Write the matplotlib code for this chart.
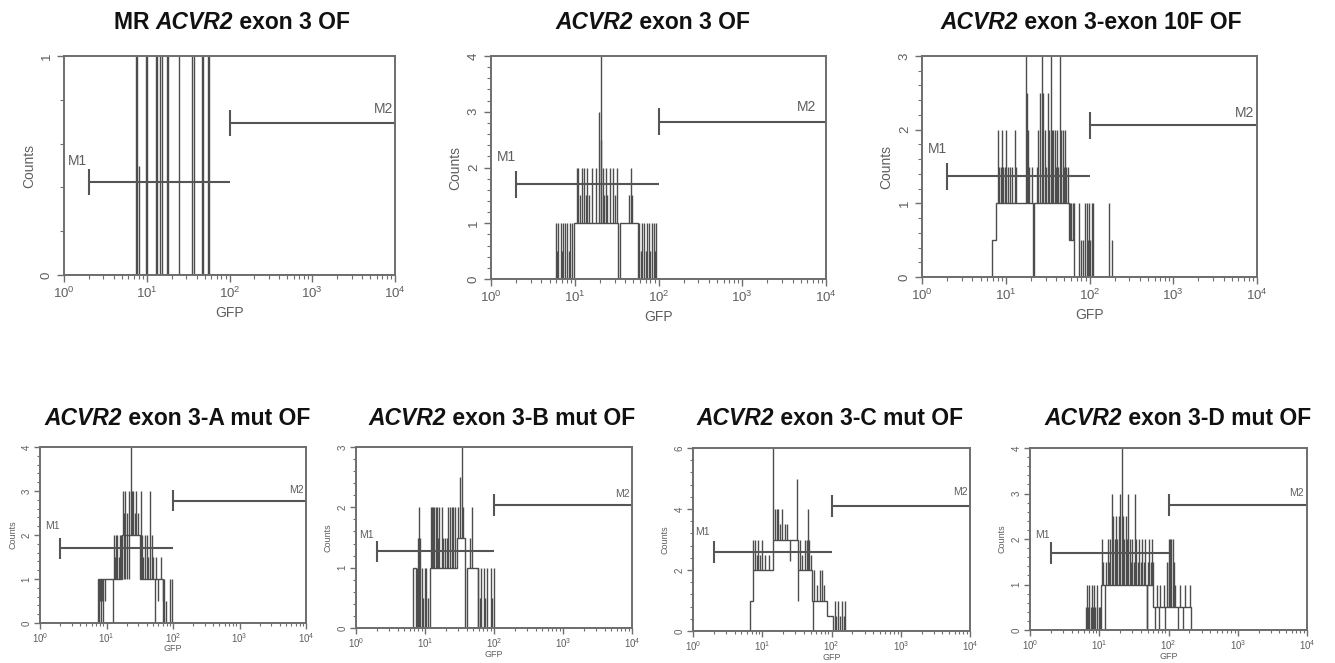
import numpy as np
import matplotlib
matplotlib.use("Agg")
import matplotlib.pyplot as plt
from matplotlib.ticker import LogLocator, MultipleLocator, NullFormatter

plt.rcParams['font.family'] = ['Liberation Sans', 'DejaVu Sans']
plt.rcParams['mathtext.fontset'] = 'custom'
plt.rcParams['mathtext.rm'] = 'Liberation Sans'
plt.rcParams['mathtext.it'] = 'Liberation Sans:italic'
plt.rcParams['mathtext.bf'] = 'Liberation Sans:bold'

# ---------------- data ----------------
titles = [
    [("MR ", False), ("ACVR2", True), (" exon 3 OF", False)],
    [("ACVR2", True), (" exon 3 OF", False)],
    [("ACVR2", True), (" exon 3-exon 10F OF", False)],
    [("ACVR2", True), (" exon 3-A mut OF", False)],
    [("ACVR2", True), (" exon 3-B mut OF", False)],
    [("ACVR2", True), (" exon 3-C mut OF", False)],
    [("ACVR2", True), (" exon 3-D mut OF", False)],
]
x_label = "GFP"
y_label = "Counts"
gate_names = ["M1", "M2"]
gate_m1_range = [2.0, 100.0]
gate_m2_range = [100.0, 10000.0]

y_max = [1, 4, 3, 4, 3, 6, 4]
y_major = [1, 1, 1, 1, 1, 2, 1]

# gate bar levels (counts)
m1_level = [0.426, 1.70, 1.365, 1.70, 1.27, 2.60, 1.70]
m2_level = [0.693, 2.82, 2.06, 2.78, 2.04, 4.10, 2.75]

# histogram floor (step) : edges (GFP) and counts
p1_edges = [7.0, 60.0]
p1_counts = [0]
p1_spikes = [(7.4, 1), (7.7, 1), (8.0, 0.5), (9.9, 1), (10.2, 1), (12.9, 1), (13.4, 1),
             (14.6, 1), (15.5, 1), (17.8, 1), (18.3, 1), (24.4, 1), (35.6, 1), (37.0, 1),
             (46.2, 1), (48.3, 1), (55.0, 1), (57.1, 1)]

p2_edges = [5.7, 9.8, 32.5, 34.7, 57.4, 95.0]
p2_counts = [0, 1, 0, 1, 0]
p2_spikes = [(5.97, 1), (6.2, 0.5), (6.37, 1), (6.79, 1), (7.0, 0.5), (7.17, 1), (7.65, 1),
             (8.15, 1), (8.5, 0.5), (8.77, 1), (9.36, 1), (10.5, 2), (11.0, 2), (11.5, 1.5),
             (12.1, 2), (12.9, 2), (13.5, 1.5), (14.1, 2), (15.0, 1.5), (15.9, 2), (17.8, 2),
             (19.7, 3), (20.4, 4), (20.8, 2.5), (21.5, 2), (22.5, 1.5), (23.6, 2), (24.5, 1.5),
             (26.4, 2), (28.9, 2), (30.0, 1.5), (31.6, 2), (45.0, 1.5), (46.5, 2), (48.0, 1.5),
             (59.0, 1), (61.0, 0.5), (62.9, 1), (67.1, 1), (70.0, 0.5), (72.2, 1), (77.8, 1),
             (80.0, 0.5), (82.9, 1), (88.3, 1), (91.0, 0.5), (93.4, 1)]

p3_edges = [6.9, 7.6, 20.9, 21.6, 57.5, 66.0]
p3_counts = [0.5, 1, 0, 1, 0.5]
p3_spikes = [(8.1, 2), (8.4, 1.5), (8.7, 1.5), (9.06, 2), (9.4, 1.5), (9.75, 1.5), (10.2, 2),
             (10.6, 1.5), (11.2, 1.5), (12.0, 1.5), (12.8, 2), (13.3, 1.5), (17.4, 3), (17.8, 2.5),
             (18.3, 2), (19.1, 1.5), (20.5, 1.5), (23.3, 1.5), (24.5, 2), (25.6, 2.5), (27.3, 3),
             (28.0, 2.5), (29.4, 2), (30.5, 1.5), (32.2, 2.5), (33.0, 2), (34.6, 3), (35.5, 2),
             (36.9, 2), (38.7, 2), (40.0, 1.5), (41.2, 2), (42.5, 1.5), (44.4, 3), (45.5, 2),
             (47.8, 2), (49.0, 1.5), (50.9, 2), (53.0, 1.5), (55.0, 1.5), (58.4, 1), (60.5, 1),
             (62.9, 1), (65.3, 1), (75.6, 1), (80.0, 0.5), (84.0, 0.5), (88.3, 1), (92.5, 1),
             (96.0, 0.5), (98.6, 1), (102.0, 0.5), (106.0, 1), (111.0, 1), (173.0, 1), (184.0, 0.5)]

pA_edges = [7.5, 12.7, 17.4, 31.5, 71.5]
pA_counts = [1, 1, 2, 1]
pA_spikes = [(7.6, 0), (7.9, 0.5), (8.2, 0), (8.6, 0.5), (9.0, 0), (9.4, 0.5), (12.6, 0),
             (13.0, 2), (13.4, 1.5), (14.0, 2), (14.5, 2), (15.2, 1.5), (15.9, 2), (16.6, 2),
             (17.9, 3), (18.2, 1), (18.5, 2.5), (19.0, 1), (19.3, 3), (20.0, 1), (20.2, 2.5),
             (21.5, 3), (22.0, 1), (23.1, 4), (24.2, 3), (25.3, 3), (26.5, 2.5), (28.0, 3),
             (30.1, 2.5), (32.7, 3), (33.8, 2), (35.5, 1.5), (37.9, 2), (40.2, 2), (42.0, 1.5),
             (45.1, 3), (47.8, 2), (50.0, 1.5), (53.0, 0), (56.0, 1.5), (60.0, 0.5), (65.0, 1.5),
             (70.0, 0.5), (74.0, 1), (78.0, 0.5), (90.0, 1), (95.0, 1)]

pB_edges = [6.8, 7.3, 11.8, 28.8, 38.5, 40.0, 58.0]
pB_counts = [1, 0, 1, 1.5, 0, 1]
pB_spikes = [(7.7, 1), (8.0, 1.5), (8.3, 2), (8.6, 1.5), (9.0, 1), (9.5, 0.5), (10.0, 1),
             (10.4, 1), (11.0, 0.5), (12.3, 2), (12.8, 2), (13.2, 2), (13.7, 2), (14.2, 2),
             (14.8, 2), (15.4, 1.5), (16.2, 2), (17.5, 2), (18.5, 1.5), (19.5, 1.5), (20.5, 1.5),
             (21.8, 2), (23.0, 2), (24.3, 2), (25.6, 2), (27.2, 2), (30.5, 2), (32.5, 2.5),
             (34.0, 3), (35.5, 2), (45.0, 1.5), (47.5, 2), (59.6, 1), (62.0, 0.5), (65.1, 1),
             (70.5, 1), (74.0, 0.5), (78.8, 1), (90.0, 1), (94.0, 0.5), (98.4, 1)]

pC_edges = [6.7, 7.4, 14.4, 25.2, 33.2, 52.0, 85.0, 106.0]
pC_counts = [1, 2, 3, 3, 2, 1, 0.5]
pC_spikes = [(7.4, 3), (7.9, 3), (8.3, 2.5), (8.8, 3), (9.3, 2.5), (9.8, 3), (11.0, 2.5),
             (12.5, 2.5), (14.4, 6), (15.3, 4), (16.2, 4), (17.1, 4), (18.0, 3.5), (19.1, 4),
             (21.0, 3.5), (23.0, 3.5), (25.5, 2.3), (27.0, 3), (29.0, 3), (31.4, 5), (33.2, 1),
             (35.0, 3), (38.0, 2.5), (42.0, 3), (44.0, 3), (46.3, 4), (48.0, 3), (50.0, 2.5),
             (54.0, 0), (56.0, 2), (62.0, 1.5), (68.0, 2), (72.0, 2), (78.0, 1.5), (112.0, 1),
             (118.0, 0.5), (125.0, 1), (132.0, 0.5), (140.0, 1), (150.0, 0.5), (157.0, 1)]

pD_edges = [6.2, 10.6, 48.4, 49.5, 60.4, 210.0]
pD_counts = [0, 1, 0, 1, 0.5]
pD_spikes = [(6.4, 0.5), (6.6, 1), (6.9, 0.5), (7.2, 1), (7.5, 0.5), (7.8, 1), (8.1, 0.5),
             (8.4, 1), (8.8, 0.5), (9.2, 1), (9.8, 0.5), (10.3, 0.5), (11.0, 2), (11.5, 1.5),
             (12.1, 0), (12.6, 1.5), (13.2, 2), (13.8, 1.5), (14.4, 2), (15.1, 3), (16.0, 2.5),
             (16.7, 2), (17.5, 2.5), (18.3, 2), (19.2, 2.5), (20.2, 3), (21.1, 4), (22.0, 2.5),
             (23.0, 2), (24.2, 2.5), (25.3, 2), (26.3, 3), (27.5, 2), (28.8, 1.5), (30.0, 2),
             (31.4, 1.5), (32.8, 3), (34.5, 2), (36.0, 1.5), (38.0, 2), (40.0, 1.5), (42.0, 2),
             (44.0, 1.5), (46.0, 2), (51.0, 1.5), (53.0, 2), (55.0, 1.5), (57.2, 2), (59.0, 1.5),
             (63.0, 0), (67.8, 1), (72.0, 0), (76.0, 1), (80.0, 0.5), (84.7, 1), (90.0, 0),
             (96.0, 1.5), (100.0, 2), (103.0, 1.5), (106.0, 2), (110.0, 2), (115.0, 2), (120.0, 1.5),
             (125.0, 1), (135.0, 0), (147.0, 1), (160.0, 0), (175.0, 1), (190.0, 0.5), (205.0, 1)]

panels_hist = [
    (p1_edges, p1_counts, p1_spikes),
    (p2_edges, p2_counts, p2_spikes),
    (p3_edges, p3_counts, p3_spikes),
    (pA_edges, pA_counts, pA_spikes),
    (pB_edges, pB_counts, pB_spikes),
    (pC_edges, pC_counts, pC_spikes),
    (pD_edges, pD_counts, pD_spikes),
]

# ---------------- layout (pixels) ----------------
W, H = 1335, 663
fig = plt.figure(figsize=(W / 100, H / 100), dpi=100)
fig.patch.set_facecolor('white')

# (left, right, top, bottom) in pixels
axes_px = [
    (64, 395, 56, 275),
    (491, 826, 56, 279),
    (922, 1257, 56, 277),
    (40, 306, 447, 623),
    (356, 632, 447, 628),
    (693, 970, 448, 631),
    (1030, 1307, 448, 630),
]
title_px = [(232, 29), (653, 29), (1091, 29), (177, 425), (502, 425), (830, 425), (1178, 425)]
m1_label_pos = [(0.16, 0.52), (0.19, 0.545), (0.19, 0.58), (0.19, 0.55), (0.155, 0.515), (0.135, 0.543), (0.18, 0.52)]
m2_label_pos = [(3.86, 0.76), (3.77, 0.77), (3.85, 0.743), (3.85, 0.757), (3.855, 0.743), (3.86, 0.757), (3.85, 0.75)]

LINE = '#4d4d4d'
AXC = '#6e6e6e'
TXT = '#5e5e5e'


def floor_at(edges, counts, x):
    e = np.asarray(edges)
    c = np.asarray(counts, dtype=float)
    idx = np.searchsorted(e, x, side='right') - 1
    out = np.zeros(len(x))
    ok = (idx >= 0) & (idx < len(c))
    out[ok] = c[idx[ok]]
    return out


for i, (l, r, t, b) in enumerate(axes_px):
    small = i >= 3
    ax = fig.add_axes([l / W, 1 - b / H, (r - l) / W, (b - t) / H])
    ax.set_xscale('log')
    ax.set_xlim(1, 1e4)
    ax.set_ylim(0, y_max[i])

    edges, counts, spikes = panels_hist[i]
    ax.stairs(counts, edges, baseline=0, color=LINE, lw=1.0)
    sx = np.array([s[0] for s in spikes])
    sy = np.array([s[1] for s in spikes], dtype=float)
    ax.vlines(sx, floor_at(edges, counts, sx), sy, color=LINE, lw=1.0)
    ax.axhline(0, color=LINE, lw=1.2)

    # gates
    cap = 0.06 * y_max[i]
    for rng, lev in ((gate_m1_range, m1_level[i]), (gate_m2_range, m2_level[i])):
        ax.plot(rng, [lev, lev], color='#555555', lw=1.5, solid_capstyle='butt', clip_on=False)
        ax.vlines([rng[0]], lev - cap, lev + cap, color='#555555', lw=1.5)
    fs_m = 7.5 if small else 10
    lx, ly = m1_label_pos[i]
    ax.text(10 ** lx, ly * y_max[i], gate_names[0], ha='center', va='center', fontsize=fs_m, color=TXT)
    lx, ly = m2_label_pos[i]
    ax.text(10 ** lx, ly * y_max[i], gate_names[1], ha='center', va='center', fontsize=fs_m, color=TXT)

    # axes styling
    for sp in ax.spines.values():
        sp.set_color(AXC)
        sp.set_linewidth(1.4)
    ax.xaxis.set_major_locator(LogLocator(base=10, numticks=10))
    ax.xaxis.set_minor_locator(LogLocator(base=10, subs=np.arange(2, 10), numticks=10))
    ax.xaxis.set_minor_formatter(NullFormatter())
    ax.yaxis.set_major_locator(MultipleLocator(y_major[i]))
    ax.yaxis.set_minor_locator(MultipleLocator(0.2 * y_major[i]))
    fs_t = 7 if small else 9.5
    ax.tick_params(which='major', direction='out', length=4 if small else 5, width=1.0,
                   color=AXC, labelcolor=TXT, labelsize=fs_t, pad=2 if small else 3)
    ax.tick_params(which='minor', direction='out', length=2 if small else 3, width=0.8, color=AXC)
    for lab in ax.get_yticklabels():
        lab.set_rotation(90)
        lab.set_va('center')
    ax.set_xlabel(x_label, fontsize=6.5 if small else 10, color=TXT)
    ax.set_ylabel(y_label, fontsize=6.5 if small else 10, color=TXT)
    ax.xaxis.set_label_coords(0.5, -0.12 if small else -0.14)
    ax.yaxis.set_label_coords(-0.085, 0.5)

# titles with mixed italic
fig.canvas.draw()
renderer = fig.canvas.get_renderer()
for parts, (cx, by) in zip(titles, title_px):
    texts = []
    for s, it in parts:
        tx = fig.text(0, 1 - by / H, s, fontsize=16.5, fontweight='bold',
                      fontstyle='italic' if it else 'normal', ha='left', va='baseline', color='#111111')
        texts.append(tx)
    widths = [tx.get_window_extent(renderer).width for tx in texts]
    x = cx - sum(widths) / 2
    for tx, w in zip(texts, widths):
        tx.set_x(x / W)
        x += w

fig.savefig('out.png', dpi=100, facecolor='white')
